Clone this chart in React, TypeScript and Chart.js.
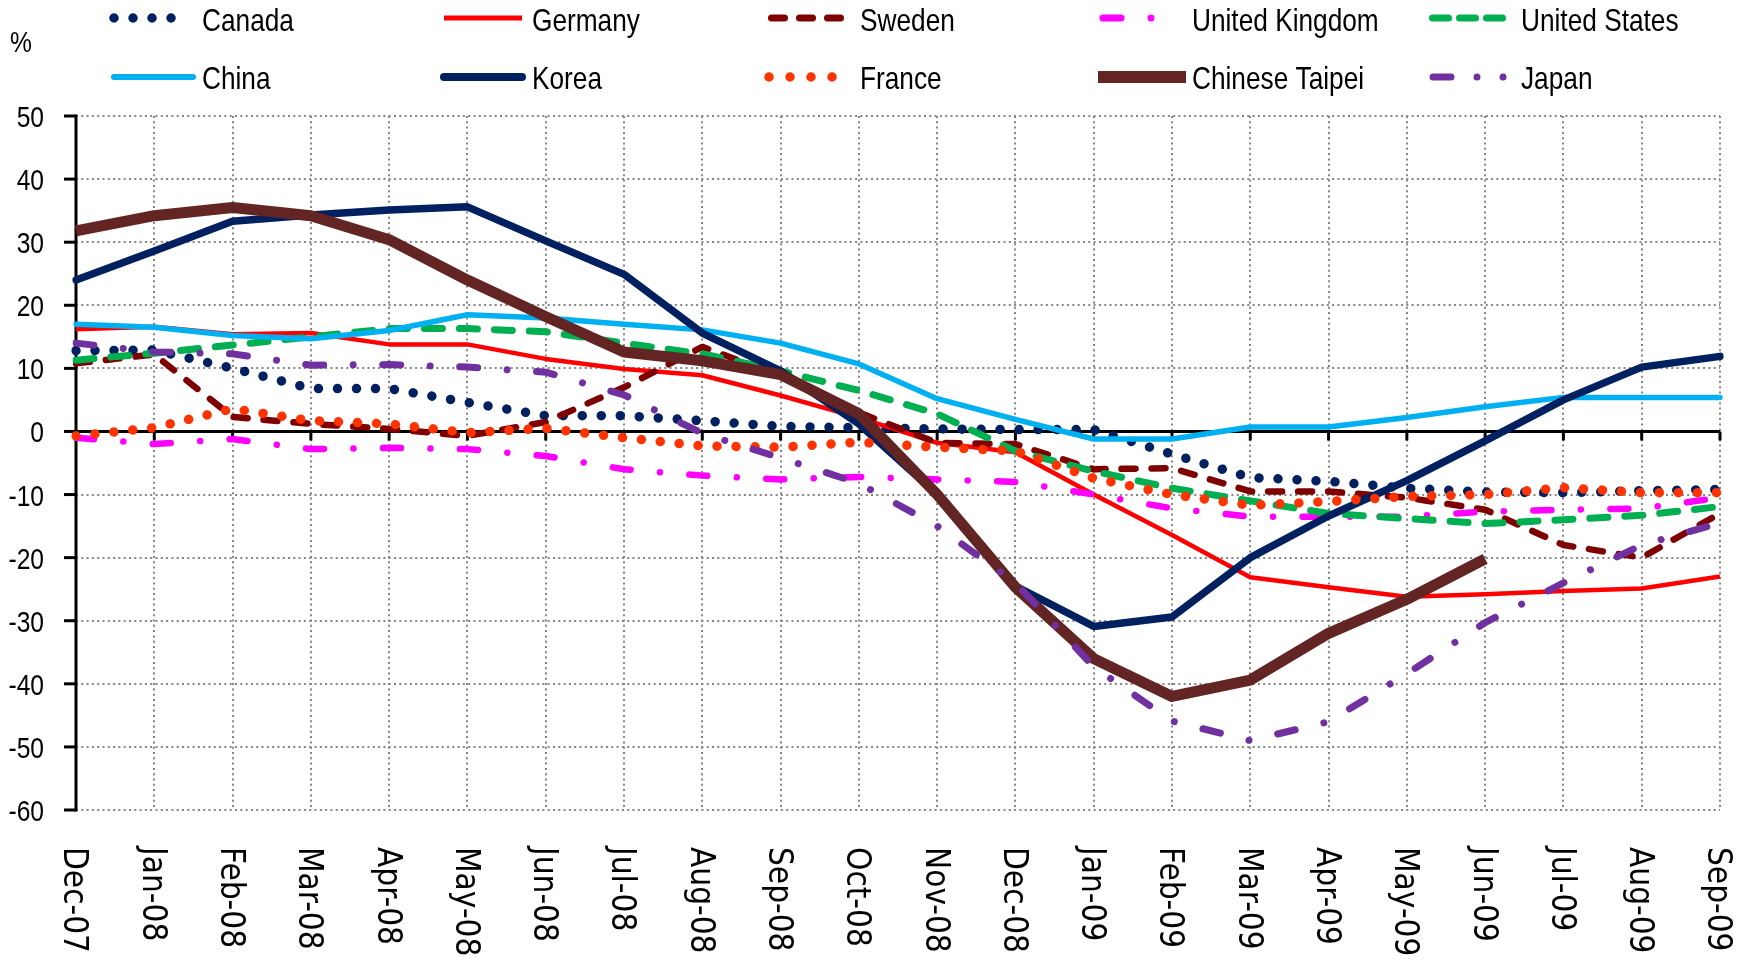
import React, { useEffect, useRef } from 'react';
import { Chart, registerables } from 'chart.js';

Chart.register(...registerables);

const months = [
  'Dec-07', 'Jan-08', 'Feb-08', 'Mar-08', 'Apr-08', 'May-08', 'Jun-08', 'Jul-08', 'Aug-08', 'Sep-08', 'Oct-08',
  'Nov-08', 'Dec-08', 'Jan-09', 'Feb-09', 'Mar-09', 'Apr-09', 'May-09', 'Jun-09', 'Jul-09', 'Aug-09', 'Sep-09',
];
const yMin = -60;
const yMax = 50;
const yStep = 10;

const canada = [12.8, 12.9, 10, 6.8, 6.8, 4.6, 2.5, 2.5, 1.7, 0.8, 0.6, 0.4, 0.3, 0.3, -3.6, -7.3, -7.9, -9, -9.6, -9.7, -9.4, -9.2];
const germany = [16.2, 16.6, 15.4, 15.6, 13.8, 13.8, 11.5, 9.9, 8.9, 5.7, 2.2, -1.8, -3.3, -10, -16.4, -23.1, -24.7, -26.2, -25.8, -25.3, -24.9, -23];
const sweden = [10.8, 12.2, 2.3, 1.2, 0.4, -0.7, 1.5, 7, 13.4, 8.8, 3, -1.8, -2, -6, -5.8, -9.5, -9.5, -10.5, -12.4, -18, -20, -13];
const unitedKingdom = [-1, -2, -1.2, -2.8, -2.6, -2.8, -3.9, -6, -7, -7.6, -7.2, -7.6, -8, -10, -12.2, -13.5, -13.5, -13.5, -12.7, -12.4, -12.2, -10.5];
const unitedStates = [11.3, 12.4, 13.7, 15, 16.3, 16.3, 15.8, 14, 12.3, 9.6, 6.5, 2.8, -3.1, -6.3, -9, -11, -13, -13.8, -14.6, -14, -13.3, -11.9];
const china = [17, 16.5, 15.2, 14.7, 16, 18.5, 18, 17, 16.1, 14, 10.7, 5.2, 1.9, -1.2, -1.2, 0.7, 0.7, 2.2, 3.9, 5.4, 5.4, 5.4];
const korea = [24, 28.6, 33.3, 34.3, 35.1, 35.6, 30.2, 24.9, 15.6, 9.6, 1.2, -10, -24.5, -30.9, -29.4, -20, -13.4, -7.8, -1.5, 5, 10.2, 11.9];
const france = [-0.7, 0.6, 3.6, 1.7, 1.2, -0.2, 0.5, -1, -2.3, -2.5, -1.7, -2.5, -3.1, -7.4, -10, -11.7, -11.1, -10.3, -10, -8.9, -9.7, -9.7];
const chineseTaipei = [31.8, 34.2, 35.5, 34.2, 30.4, 24, 18.2, 12.6, 11.2, 9, 2.8, -10, -24.7, -36, -42, -39.4, -32, -26.6, -20.2, null, null, null];
const japan = [14, 12.6, 12.3, 10.5, 10.6, 10.2, 9.4, 5.8, -0.3, -4.2, -8.2, -15, -24, -37.3, -45.9, -49, -46, -38.4, -30.3, -24, -18, -14.5];

const SANS = '"Liberation Sans", Arial, sans-serif';
const XFONT = '"DejaVu Sans", Verdana, sans-serif';
const NARROW_SCALE = 0.82;

type Series = {
  label: string;
  data: (number | null)[];
  color: string;
  width: number;
  dash: number[];
  cap: CanvasLineCap;
  lx0: number;
  lx1: number;
  lwidth: number;
  ldash: number[];
  row: number;
  tx: number;
};

const series: Series[] = [
  { label: 'Canada', data: canada, color: '#002060', width: 9.5, dash: [0.01, 19], cap: 'round', lx0: 114, lx1: 190, lwidth: 9.5, ldash: [0.01, 19], row: 0, tx: 202 },
  { label: 'Germany', data: germany, color: '#FF0000', width: 4.5, dash: [], cap: 'butt', lx0: 444, lx1: 522, lwidth: 5, ldash: [], row: 0, tx: 532 },
  { label: 'Sweden', data: sweden, color: '#7F0000', width: 6.5, dash: [14, 16], cap: 'round', lx0: 771.5, lx1: 840.5, lwidth: 7, ldash: [13, 15], row: 0, tx: 860 },
  { label: 'United Kingdom', data: unitedKingdom, color: '#FF00FF', width: 6.5, dash: [18, 29.5, 0.01, 29.5], cap: 'round', lx0: 1103, lx1: 1152, lwidth: 7, ldash: [18, 30, 0.01, 30], row: 0, tx: 1192 },
  { label: 'United States', data: unitedStates, color: '#00B050', width: 7, dash: [18, 17], cap: 'round', lx0: 1432.5, lx1: 1502.5, lwidth: 7, ldash: [16, 11], row: 0, tx: 1521 },
  { label: 'China', data: china, color: '#00B0F0', width: 5.5, dash: [], cap: 'round', lx0: 114, lx1: 193, lwidth: 6, ldash: [], row: 1, tx: 202 },
  { label: 'Korea', data: korea, color: '#002060', width: 7.5, dash: [], cap: 'round', lx0: 444, lx1: 522, lwidth: 8, ldash: [], row: 1, tx: 532 },
  { label: 'France', data: france, color: '#FF3300', width: 9.5, dash: [0.01, 19], cap: 'round', lx0: 769, lx1: 853, lwidth: 9.5, ldash: [0.01, 21], row: 1, tx: 860 },
  { label: 'Chinese Taipei', data: chineseTaipei, color: '#632523', width: 11, dash: [], cap: 'butt', lx0: 1098, lx1: 1186, lwidth: 12, ldash: [], row: 1, tx: 1192 },
  { label: 'Japan', data: japan, color: '#7030A0', width: 7, dash: [18, 29.5, 0.01, 29.5], cap: 'round', lx0: 1433, lx1: 1510, lwidth: 7, ldash: [18, 26, 0.01, 26, 0.01, 100], row: 1, tx: 1521 },
];

const W = 1752;
const H = 967;

function narrowText(ctx: CanvasRenderingContext2D, text: string, x: number, y: number, size: number, align: CanvasTextAlign) {
  ctx.save();
  ctx.translate(x, y);
  ctx.scale(NARROW_SCALE, 1);
  ctx.font = `${size}px ${SANS}`;
  ctx.fillStyle = '#000';
  ctx.textAlign = align;
  ctx.textBaseline = 'alphabetic';
  ctx.fillText(text, 0, 0);
  ctx.restore();
}

const decorPlugin = {
  id: 'decor',
  beforeDatasetsDraw(chart: any) {
    const { ctx, chartArea, scales } = chart;
    const xs = scales.x;
    const ys = scales.y;
    const y0 = ys.getPixelForValue(0);
    ctx.save();
    ctx.strokeStyle = '#000';
    ctx.lineWidth = 3;
    ctx.setLineDash([]);
    ctx.lineCap = 'butt';
    ctx.beginPath();
    ctx.moveTo(chartArea.left, chartArea.top - 1.5);
    ctx.lineTo(chartArea.left, chartArea.bottom + 1.5);
    ctx.stroke();
    for (let v = yMin; v <= yMax; v += yStep) {
      const py = ys.getPixelForValue(v);
      ctx.beginPath();
      ctx.moveTo(chartArea.left - 12, py);
      ctx.lineTo(chartArea.left, py);
      ctx.stroke();
    }
    ctx.beginPath();
    ctx.moveTo(chartArea.left, y0);
    ctx.lineTo(chartArea.right, y0);
    ctx.stroke();
    for (let i = 0; i < months.length; i++) {
      const px = xs.getPixelForValue(i);
      ctx.beginPath();
      ctx.moveTo(px, y0);
      ctx.lineTo(px, y0 + 9);
      ctx.stroke();
    }
    ctx.restore();
  },
  afterDraw(chart: any) {
    const { ctx, chartArea, scales } = chart;
    const xs = scales.x;
    const ys = scales.y;
    ctx.save();
    // y tick labels
    for (let v = yMin; v <= yMax; v += yStep) {
      const py = ys.getPixelForValue(v);
      narrowText(ctx, String(v), 44, py + 11, 30, 'right');
    }
    // x labels rotated clockwise
    ctx.fillStyle = '#000';
    ctx.font = `33px ${XFONT}`;
    ctx.textAlign = 'left';
    ctx.textBaseline = 'middle';
    for (let i = 0; i < months.length; i++) {
      const px = xs.getPixelForValue(i);
      ctx.save();
      ctx.translate(px - 3, chartArea.bottom + 37);
      ctx.rotate(Math.PI / 2);
      ctx.scale(0.9, 1);
      ctx.fillText(months[i], 0, 0);
      ctx.restore();
    }
    // % label
    narrowText(ctx, '%', 10, 52, 30, 'left');
    // legend
    const rowLineY = [18, 77];
    const rowTextY = [31, 89];
    for (const s of series) {
      ctx.save();
      ctx.strokeStyle = s.color;
      ctx.lineWidth = s.lwidth;
      ctx.lineCap = s.cap;
      ctx.setLineDash(s.ldash);
      ctx.beginPath();
      ctx.moveTo(s.lx0, rowLineY[s.row]);
      ctx.lineTo(s.lx1, rowLineY[s.row]);
      ctx.stroke();
      ctx.restore();
      narrowText(ctx, s.label, s.tx, rowTextY[s.row], 32, 'left');
    }
    ctx.restore();
  },
};

export default function App() {
  const ref = useRef<HTMLCanvasElement | null>(null);
  useEffect(() => {
    document.body.style.margin = '0';
    const canvas = ref.current;
    if (!canvas) return;
    // Chart.js draws the first dataset last (on top); reverse so later series sit on top
    const datasets = series
      .map((s) => ({
        label: s.label,
        data: s.data,
        borderColor: s.color,
        backgroundColor: s.color,
        borderWidth: s.width,
        borderDash: s.dash,
        borderCapStyle: s.cap,
        borderJoinStyle: 'round' as CanvasLineJoin,
        pointRadius: 0,
        pointHoverRadius: 0,
        tension: 0,
        fill: false,
        spanGaps: false,
      }))
      .reverse();
    const chart = new Chart(canvas, {
      type: 'line',
      data: { labels: months, datasets },
      plugins: [decorPlugin],
      options: {
        responsive: false,
        animation: false,
        events: [],
        layout: { padding: { top: 116, right: 32, left: 0, bottom: 0 } },
        plugins: { legend: { display: false }, tooltip: { enabled: false }, title: { display: false } },
        scales: {
          x: {
            type: 'category',
            offset: false,
            grid: { display: true, color: '#858585', lineWidth: 2, drawTicks: false, offset: false },
            border: { display: false, dash: [2, 3.3] },
            ticks: { display: false },
            afterFit: (scale: any) => {
              scale.height = 157;
            },
          },
          y: {
            min: yMin,
            max: yMax,
            grid: { display: true, color: '#858585', lineWidth: 2, drawTicks: false },
            border: { display: false, dash: [2, 3.3] },
            ticks: { display: false, stepSize: yStep },
            afterFit: (scale: any) => {
              scale.width = 76;
            },
          },
        },
      },
    });
    return () => chart.destroy();
  }, []);
  return <canvas ref={ref} width={W} height={H} style={{ display: 'block', width: W, height: H }} />;
}
